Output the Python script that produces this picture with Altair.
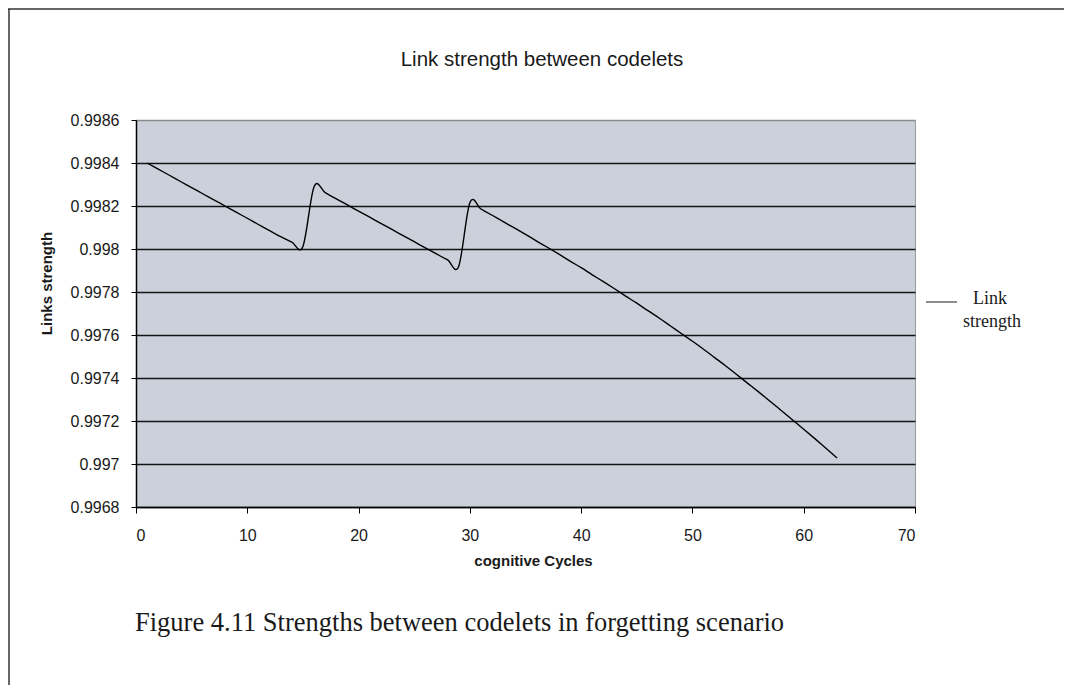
import altair as alt
import pandas as pd

# ---- data ----
cycles = list(range(1, 64))
link_strength = [
    0.998400, 0.998371, 0.998343, 0.998314, 0.998286, 0.998257, 0.998229, 0.998200,
    0.998171, 0.998143, 0.998114, 0.998086, 0.998057, 0.998032, 0.998012,
    0.998290, 0.998262, 0.998233, 0.998205, 0.998176, 0.998148, 0.998119, 0.998091,
    0.998062, 0.998034, 0.998005, 0.997977, 0.997949, 0.997920,
    0.998215, 0.998186, 0.998157, 0.998127, 0.998098, 0.998068, 0.998037, 0.998007,
    0.997976, 0.997944, 0.997913, 0.997880, 0.997848, 0.997815, 0.997781, 0.997748,
    0.997713, 0.997679, 0.997643, 0.997607, 0.997571, 0.997534, 0.997495, 0.997456,
    0.997415, 0.997374, 0.997333, 0.997291, 0.997248, 0.997205, 0.997162, 0.997118,
    0.997073, 0.997028,
]
x_ticks = [0, 10, 20, 30, 40, 50, 60, 70]
y_ticks = [0.9968, 0.997, 0.9972, 0.9974, 0.9976, 0.9978, 0.998, 0.9982, 0.9984, 0.9986]
series_name = "Link strength"
title_text = "Link strength between codelets"
x_title = "cognitive Cycles"
y_title = "Links strength"
caption_text = "Figure 4.11 Strengths between codelets in forgetting scenario"

df = pd.DataFrame({"cycle": cycles, "strength": link_strength, "series": series_name})

W, H = 779, 387
SANS = "Liberation Sans"
NARROW = "Liberation Sans Narrow, Arial Narrow, Liberation Sans"
SERIF = "Liberation Serif"
INK = "#1a1a1a"

line = alt.Chart(df).mark_line(color="black", strokeWidth=1.4, interpolate="cardinal").encode(
    x=alt.X(
        "cycle:Q",
        scale=alt.Scale(domain=[0, 70], nice=False, zero=False),
        axis=alt.Axis(
            values=x_ticks, title=x_title, grid=False,
            labelFont=NARROW, labelFontSize=16, labelColor=INK, labelPadding=14,
            tickSize=6, tickColor="black", domainColor="black", domainWidth=1.5,
            titleFont=SANS, titleFontSize=15, titleFontWeight="bold", titleColor=INK,
            titleX=397, titleY=53, titleBaseline="middle", titleAlign="center",
        ),
    ),
    y=alt.Y(
        "strength:Q",
        scale=alt.Scale(domain=[0.9968, 0.9986], nice=False, zero=False),
        axis=alt.Axis(
            values=y_ticks, format="~g", title=y_title, grid=True,
            gridColor={"condition": {"test": "datum.value > 0.99859", "value": "#8a8a8a"}, "value": "#141414"},
            gridWidth=1.4,
            labelFont=NARROW, labelFontSize=16, labelColor=INK, labelPadding=12,
            tickSize=5, tickColor="black", domainColor="black", domainWidth=1.5,
            titleFont=SANS, titleFontSize=15, titleFontWeight="bold", titleColor=INK,
            titleX=-90, titleY=163, titleAngle=-90, titleBaseline="middle", titleAlign="center",
        ),
    ),
)

# chart title as a text mark placed over the plot
title = alt.Chart(pd.DataFrame({"t": [title_text]})).mark_text(
    font=SANS, fontSize=20.5, color=INK, align="center", baseline="alphabetic"
).encode(text="t:N", x=alt.value(406), y=alt.value(-54))

# legend (drawn as decoration to match the two-line label)
leg_df = pd.DataFrame({"series": [series_name]})
legend_rule = alt.Chart(leg_df).mark_rule(color=INK, strokeWidth=1).encode(
    x=alt.value(790), x2=alt.value(821), y=alt.value(182)
)
words = series_name.split(" ")
legend_l1 = alt.Chart(pd.DataFrame({"t": [words[0]]})).mark_text(
    font=SERIF, fontSize=18, color=INK, align="center", baseline="middle"
).encode(text="t:N", x=alt.value(854), y=alt.value(179))
legend_l2 = alt.Chart(pd.DataFrame({"t": [words[1]]})).mark_text(
    font=SERIF, fontSize=18, color=INK, align="center", baseline="middle"
).encode(text="t:N", x=alt.value(856), y=alt.value(202))

caption = alt.Chart(pd.DataFrame({"t": [caption_text]})).mark_text(
    font=SERIF, fontSize=26.5, color=INK, align="left", baseline="alphabetic"
).encode(text="t:N", x=alt.value(-1), y=alt.value(511))

# scanned page frame
frame_top = alt.Chart(leg_df).mark_rule(color="#333333", strokeWidth=1.5).encode(
    x=alt.value(-128), x2=alt.value(928), y=alt.value(-111)
)
frame_left = alt.Chart(leg_df).mark_rule(color="#333333", strokeWidth=1.5).encode(
    x=alt.value(-127), y=alt.value(-111), y2=alt.value(565)
)

chart = alt.layer(
    line, title, legend_rule, legend_l1, legend_l2, caption, frame_top, frame_left
).properties(
    width=W,
    height=H,
    background="white",
    autosize=alt.AutoSizeParams(type="none"),
    padding={"left": 128, "top": 112, "right": 149, "bottom": 178},
).configure_view(
    fill="#cbd0db", stroke="#9a9a9a", strokeWidth=1
)

chart.save("out.html", embed_options={"renderer": "svg", "actions": False})
